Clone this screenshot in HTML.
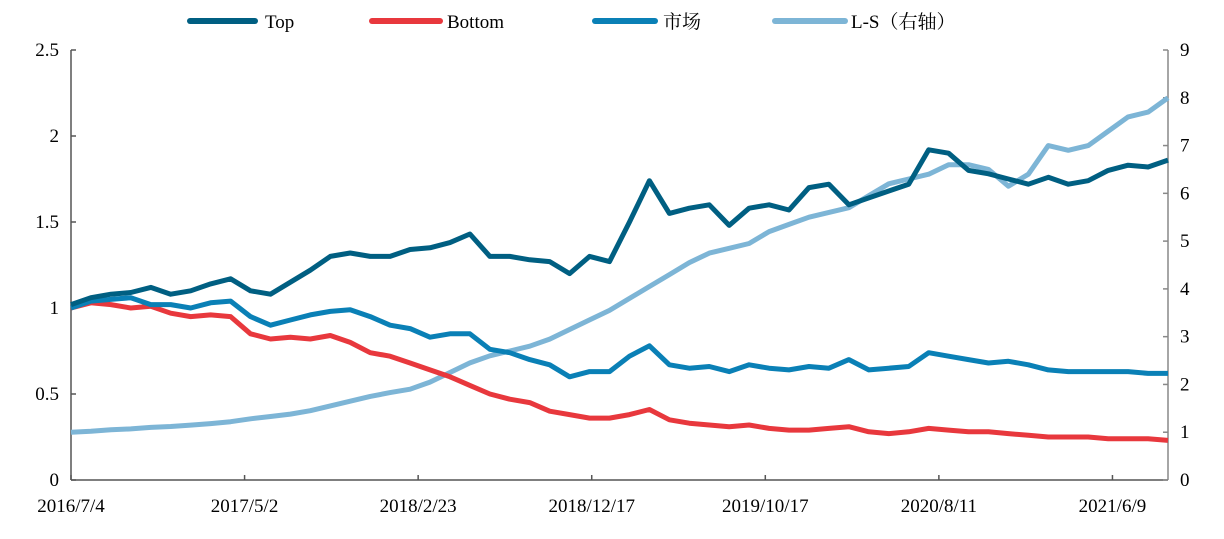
<!DOCTYPE html>
<html><head><meta charset="utf-8"><style>
body{margin:0;background:#fff}
svg text{font-family:"Liberation Serif","Noto Serif CJK SC",serif;font-size:19px;fill:#000}
</style></head><body>
<svg id="c" width="1224" height="534"></svg>
<script>
const xLabels=["2016/7/4","2017/5/2","2018/2/23","2018/12/17","2019/10/17","2020/8/11","2021/6/9"];
const leftTicks=[0,0.5,1,1.5,2,2.5];
const rightTicks=[0,1,2,3,4,5,6,7,8,9];
const topSeries=[1.02,1.06,1.08,1.09,1.12,1.08,1.1,1.14,1.17,1.1,1.08,1.15,1.22,1.3,1.32,1.3,1.3,1.34,1.35,1.38,1.43,1.3,1.3,1.28,1.27,1.2,1.3,1.27,1.5,1.74,1.55,1.58,1.6,1.48,1.58,1.6,1.57,1.7,1.72,1.6,1.64,1.68,1.72,1.92,1.9,1.8,1.78,1.75,1.72,1.76,1.72,1.74,1.8,1.83,1.82,1.86];
const marketSeries=[1.0,1.04,1.05,1.06,1.02,1.02,1.0,1.03,1.04,0.95,0.9,0.93,0.96,0.98,0.99,0.95,0.9,0.88,0.83,0.85,0.85,0.76,0.74,0.7,0.67,0.6,0.63,0.63,0.72,0.78,0.67,0.65,0.66,0.63,0.67,0.65,0.64,0.66,0.65,0.7,0.64,0.65,0.66,0.74,0.72,0.7,0.68,0.69,0.67,0.64,0.63,0.63,0.63,0.63,0.62,0.62];
const bottomSeries=[1.0,1.03,1.02,1.0,1.01,0.97,0.95,0.96,0.95,0.85,0.82,0.83,0.82,0.84,0.8,0.74,0.72,0.68,0.64,0.6,0.55,0.5,0.47,0.45,0.4,0.38,0.36,0.36,0.38,0.41,0.35,0.33,0.32,0.31,0.32,0.3,0.29,0.29,0.3,0.31,0.28,0.27,0.28,0.3,0.29,0.28,0.28,0.27,0.26,0.25,0.25,0.25,0.24,0.24,0.24,0.23];
const lsSeries=[1.0,1.02,1.05,1.07,1.1,1.12,1.15,1.18,1.22,1.28,1.33,1.38,1.45,1.55,1.65,1.75,1.83,1.9,2.05,2.25,2.45,2.6,2.7,2.8,2.95,3.15,3.35,3.55,3.8,4.05,4.3,4.55,4.75,4.85,4.95,5.2,5.35,5.5,5.6,5.7,5.95,6.2,6.3,6.4,6.6,6.6,6.5,6.15,6.4,7.0,6.9,7.0,7.3,7.6,7.7,8.0];

const NS="http://www.w3.org/2000/svg";
const svg=document.getElementById('c');
const X0=71,X1=1168,Y0=480,Y1=50;
const xIdx=i=>X0+(X1-X0)*i/(topSeries.length-1);
const yL=v=>Y0-(Y0-Y1)*v/2.5;
const yR=v=>Y0-(Y0-Y1)*v/9;
function mk(t,a){const e=document.createElementNS(NS,t);for(const k in a)e.setAttribute(k,a[k]);svg.appendChild(e);return e;}

let e=mk('line',{x1:X0,y1:Y1,x2:X0,y2:Y0,stroke:'#555','stroke-width':1.5});


e=mk('line',{x1:X1,y1:Y1,x2:X1,y2:Y0,stroke:'#888','stroke-width':1.5});


e=mk('line',{x1:X0,y1:Y0,x2:X1,y2:Y0,stroke:'#555','stroke-width':1.5});



leftTicks.forEach(v=>{
  mk('line',{x1:X0,y1:yL(v),x2:X0+5,y2:yL(v),stroke:'#555','stroke-width':1.5});
  const t=mk('text',{x:X0-12,y:yL(v)+6,'text-anchor':'end'});t.textContent=v;
  
  
});
rightTicks.forEach(v=>{
  mk('line',{x1:X1-5,y1:yR(v),x2:X1,y2:yR(v),stroke:'#888','stroke-width':1.5});
  const t=mk('text',{x:X1+12,y:yR(v)+6,'text-anchor':'start'});t.textContent=v;
  
  
});
const step=(X1-X0)/6.32;
xLabels.forEach((l,i)=>{
  const x=X0+step*i;
  mk('line',{x1:x,y1:Y0,x2:x,y2:Y0-5,stroke:'#555','stroke-width':1.5});
  const t=mk('text',{x:x,y:Y0+32,'text-anchor':'middle'});t.textContent=l;
  
  
});
function series(arr,fy,color,name){
  const d=arr.map((v,i)=>(i?'L':'M')+xIdx(i).toFixed(1)+','+fy(v).toFixed(1)).join('');
  const p=mk('path',{d:d,fill:'none',stroke:color,'stroke-width':5,'stroke-linejoin':'round'});
  
  
}
series(lsSeries,yR,'#7db5d6','ls-line');
series(bottomSeries,yL,'#e8383d','bottom-line');
series(marketSeries,yL,'#0a80b6','market-line');
series(topSeries,yL,'#005f82','top-line');

const legend=[["Top",190,255,265,'#005f82'],["Bottom",372,440,447,'#e8383d'],["市场",595,655,663,'#0a80b6'],["L-S（右轴）",775,845,851,'#7db5d6']];
legend.forEach(l=>{
  const ln=mk('line',{x1:l[1],y1:21,x2:l[2],y2:21,stroke:l[4],'stroke-width':6,'stroke-linecap':'round'});
  
  
  const t=mk('text',{x:l[3],y:28});t.textContent=l[0];
  
  
});
</script>
</body></html>
